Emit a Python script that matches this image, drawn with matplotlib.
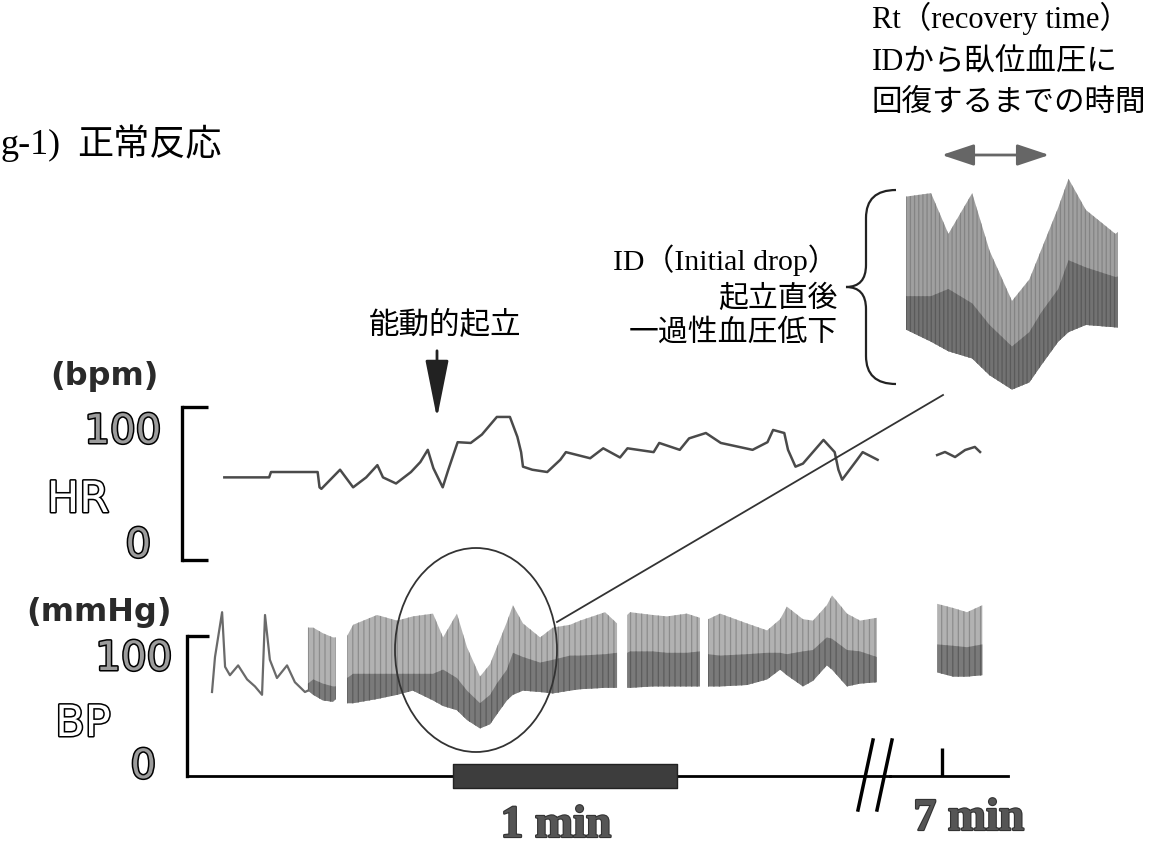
import numpy as np
import matplotlib
matplotlib.use('Agg')
import matplotlib.pyplot as plt
import matplotlib.patheffects as pe
from matplotlib.patches import Ellipse, PathPatch
from matplotlib.path import Path

W, H = 1160, 847
X0 = 187            # pixel column of t = 0 s
PX_PER_S = 3.733    # the 1 min bar is 224 px long
NAN = np.nan

# ---------------- data ----------------
# heart rate, first part (s, bpm)
hr_t = [10, 22, 22.5, 35, 35.5, 36, 41, 44.5, 48, 51, 52.5, 56, 60, 62.5, 64.5,
        66, 68.5, 70, 72.5, 76, 79, 83, 86.5, 88.5, 89.5, 90, 92.5, 96.5, 100,
        101.5, 108, 111.5, 116, 118, 125, 126.5, 132, 134.5, 139, 143, 151.5,
        155.5, 157, 160, 161, 163, 165, 170.5, 173.5, 174.5, 175.5, 179.5, 181, 185]
hr_bpm = [54, 54, 57.5, 57.5, 47.5, 46.5, 59, 47.5, 54, 62, 54, 50, 57.5, 64, 72,
          60, 47.5, 59, 77, 76.5, 82, 93.5, 93.5, 80.5, 70.5, 61, 59, 57.5, 65.5,
          70.5, 66.5, 73, 67, 73, 70.5, 76.5, 72, 79.5, 83, 76.5, 72, 77, 85, 83,
          72, 61, 63, 78.5, 70.5, 59, 52.5, 65.5, 70.5, 65.5]
# heart rate around 7 min
hr7_t = [418.7, 420.8, 423.5, 426.2, 428.8, 430.2]
hr7_bpm = [68.6, 70.6, 67.3, 71.9, 73.9, 70.6]

# blood pressure, supine single-line part (s, mmHg)
bp_line_t = [6.7, 7.5, 9.4, 10.2, 11.5, 13.7, 16.1, 18.2, 20.1, 20.9, 22.2,
             24.1, 26.8, 28.9, 31.6, 32.4]
bp_line = [60, 85, 117, 78, 72, 79, 69, 64, 58, 115, 83, 70, 79, 67, 60, 61]

# blood pressure band: systolic top, dark-band top, diastolic bottom
bp_t = [32.4, 33.8, 36.4, 39.1, 39.9, 41.4, 42.9, 44.5, 50.9, 56.3, 60.5, 65.9,
        68.6, 72.3, 75.0, 78.5, 81.2, 83.0, 85.7, 87.3, 90.0, 94.6, 98.0, 102.6,
        105.3, 112.0, 115.2, 116.5, 117.9, 118.7, 124.8, 128.6, 133.9, 137.4,
        138.5, 139.6, 142.8, 150.0, 155.4, 158.9, 160.7, 165.0, 167.7, 171.4,
        172.8, 176.8, 180.3, 184.8]
bp_sys = [106, 106, 102, 99, 99, NAN, 100, 108, 115, 111, 114, 116, 99, 116, 92,
          71, 80, 92, 110, 122, 109, 99, 106, 108, 111, 117, 109, NAN, 115, 117,
          115, 114, 116, 113, NAN, 112, 116, 109, 104, 112, 121, 112, 111, 122,
          129, 116, 111, 113]
bp_mid = [66, 69, 66, 64, 64, NAN, 70, 73, 73, 73, 73, 73, 76, 70, 61, 52, 58,
          66, 76, 88, 85, 81, 83, 86, 86, 87, 88, NAN, 88, 89, 89, 88, 88, 89,
          NAN, 87, 86, 87, 88, 88, 87, 89, 90, 99, 98, 90, 89, 85]
bp_dia = [61, 58, 54, 53, 55, NAN, 52, 52, 55, 58, 61, 54, 50, 47, 40, 34, 37,
          44, 54, 58, 61, 60, 59, 61, 62, 63, 63, NAN, 63, 63, 64, 64, 64, 64,
          NAN, 64, 64, 65, 69, 76, 72, 64, 68, 79, 76, 64, 66, 67]
# blood pressure around 7 min
bp7_t = [418.7, 423.0, 426.7, 430.8]
bp7_sys = [123, 120, 117, 122]
bp7_mid = [94, 93, 92, 94]
bp7_dia = [74, 71, 71, 72]

AXIS_TICKS = [100, 0]
AXIS_LABELS = ['100', '0']
STAND_BAR = (71.3, 60)     # 1 min scale bar (start s, length s)
LATE_TICK = 420            # 7 min
ZOOM_T = (62, 95)          # window shown enlarged
ZOOM_BP = (33, 124)

plt.rcParams['hatch.linewidth'] = 0.9
LIGHT = dict(facecolor='#b2b2b2', edgecolor='#8d8d8d', hatch='|||', lw=0)
DARK = dict(facecolor='#7a7a7a', edgecolor='#5c5c5c', hatch='|||', lw=0)

fig = plt.figure(figsize=(W / 100, H / 100), dpi=100)


def px_axes(left, right, top, bottom):
    return fig.add_axes([left / W, 1 - bottom / H, (right - left) / W, (bottom - top) / H])


def px_to_t(x, t_ref=0.0, x_ref=X0):
    return t_ref + (x - x_ref) / PX_PER_S


def bare(ax):
    ax.patch.set_alpha(0)
    for s in ax.spines.values():
        s.set_visible(False)
    ax.set_xticks([])
    ax.set_yticks([])


def band(ax, t, dia, mid, sys, light=LIGHT, dark=DARK):
    ax.fill_between(t, dia, sys, **light)
    ax.fill_between(t, dia, mid, **dark)


# ---------------- HR panel ----------------
ax_hr = px_axes(182, 890, 407, 560)
bare(ax_hr)
ax_hr.set_xlim(px_to_t(182), px_to_t(890))
ax_hr.set_ylim(0, 100)
ax_hr.spines['left'].set_visible(True)
ax_hr.spines['left'].set_linewidth(2.4)
ax_hr.set_yticks(AXIS_TICKS)
ax_hr.tick_params(axis='y', direction='in', length=19, width=2.4, labelleft=False)
ax_hr.plot(hr_t, hr_bpm, color='#4a4a4a', lw=1.8, clip_on=False)

ax_hr7 = px_axes(890, 1008, 407, 560)
bare(ax_hr7)
ax_hr7.set_xlim(px_to_t(890, LATE_TICK, 942), px_to_t(1008, LATE_TICK, 942))
ax_hr7.set_ylim(0, 100)
ax_hr7.plot(hr7_t, hr7_bpm, color='#4a4a4a', lw=1.8)

# ---------------- BP panel ----------------
BP_PX = 1.4
bp_ylim = ((776 - 795) / BP_PX, (776 - 560) / BP_PX)

ax_bp = px_axes(187, 890, 560, 795)
bare(ax_bp)
ax_bp.set_xlim(px_to_t(187), px_to_t(890))
ax_bp.set_ylim(*bp_ylim)
ax_bp.spines['left'].set_visible(True)
ax_bp.spines['left'].set_bounds(0, 100)
ax_bp.spines['left'].set_linewidth(2.4)
ax_bp.spines['bottom'].set_visible(True)
ax_bp.spines['bottom'].set_position(('data', 0))
ax_bp.spines['bottom'].set_linewidth(2.0)
ax_bp.set_yticks(AXIS_TICKS[:1])
ax_bp.tick_params(axis='y', direction='in', length=16, width=2.4, labelleft=False)
band(ax_bp, bp_t, bp_dia, bp_mid, bp_sys)
ax_bp.plot(bp_line_t, bp_line, color='#6a6a6a', lw=1.6)
ax_bp.broken_barh([STAND_BAR], (-8.5, 17), facecolors='#3d3d3d',
                  edgecolors='#222222', lw=1, zorder=3)

ax_bp7 = px_axes(890, 1008, 560, 795)
bare(ax_bp7)
ax_bp7.set_xlim(px_to_t(890, LATE_TICK, 942), px_to_t(1008, LATE_TICK, 942))
ax_bp7.set_ylim(*bp_ylim)
ax_bp7.spines['bottom'].set_visible(True)
ax_bp7.spines['bottom'].set_position(('data', 0))
ax_bp7.spines['bottom'].set_linewidth(2.0)
ax_bp7.set_xticks([LATE_TICK])
ax_bp7.tick_params(axis='x', direction='in', length=20, width=2.4, labelbottom=False)
band(ax_bp7, bp7_t, bp7_dia, bp7_mid, bp7_sys)

# tick labels next to the brackets
num_fx = [pe.withStroke(linewidth=2.2, foreground='black')]
for ax, offs in ((ax_hr, {100: (-21, -25), 0: (-31, 14)}),
                 (ax_bp, {100: (-15, -23), 0: (-31, 9)})):
    for val, lab in zip(AXIS_TICKS, AXIS_LABELS):
        dx, dy = offs[val]
        ax.annotate(lab, xy=(0, val), xycoords=('axes fraction', 'data'),
                    xytext=(dx, dy), textcoords='offset pixels', ha='right',
                    va='center', fontsize=29, color='#9c9c9c',
                    family='DejaVu Sans', path_effects=num_fx)

# ---------------- enlarged initial drop ----------------
ax_in = px_axes(906, 1118, 174, 392)
bare(ax_in)
ax_in.set_xlim(*ZOOM_T)
ax_in.set_ylim(*ZOOM_BP)
band(ax_in, bp_t, bp_dia, bp_mid, bp_sys,
     light=dict(facecolor='#a0a0a0', edgecolor='#848484', hatch='||||', lw=0),
     dark=dict(facecolor='#727272', edgecolor='#5a5a5a', hatch='||||', lw=0))

# ---------------- overlay annotations (pixel space) ----------------
ov = fig.add_axes([0, 0, 1, 1])
ov.set_xlim(0, W)
ov.set_ylim(H, 0)
ov.axis('off')
ov.patch.set_alpha(0)

serif_jp = ['Liberation Serif', 'Noto Sans CJK JP']
sans_jp = ['Noto Sans CJK JP', 'DejaVu Sans']

ov.text(0, 145, 'g-1)', ha='left', va='center', fontsize=26, family='Liberation Serif')
ov.text(77, 145, '正常反応', ha='left', va='center', fontsize=26, family=sans_jp)

for y, s in ((18, 'Rt（recovery time）'), (62, 'IDから臥位血圧に'), (103, '回復するまでの時間')):
    ov.text(872, y, s, ha='left', va='center', fontsize=22, family=serif_jp)

ov.annotate('', xy=(1052, 155), xytext=(939, 155),
            arrowprops=dict(arrowstyle='<|-|>,head_length=0.9,head_width=0.3',
                            color='#666666', lw=2, mutation_scale=22))

for y, s in ((260, 'ID（Initial drop）'), (299, '起立直後'), (333, '一過性血圧低下')):
    ov.text(838, y, s, ha='right', va='center', fontsize=21.5, family=serif_jp)

brace = Path([(896, 190), (866, 190), (866, 218), (866, 265), (866, 287), (846, 287),
              (866, 287), (866, 309), (866, 356), (866, 384), (896, 384)],
             [Path.MOVETO, Path.CURVE3, Path.CURVE3, Path.LINETO, Path.CURVE3, Path.CURVE3,
              Path.CURVE3, Path.CURVE3, Path.LINETO, Path.CURVE3, Path.CURVE3])
ov.add_patch(PathPatch(brace, fill=False, lw=1.6, ec='#222222'))

ov.text(445, 325, '能動的起立', ha='center', va='center', fontsize=22, family=sans_jp)
ov.annotate('', xy=(437, 421), xytext=(437, 348),
            arrowprops=dict(arrowstyle='-|>,head_length=1.5,head_width=0.3',
                            color='#222222', lw=2, mutation_scale=24))

ov.add_patch(Ellipse((476, 650), 162, 204, fill=False, lw=1.3, ec='#333333'))
ov.plot([557, 943], [622, 395], color='#333333', lw=1.3)

for x_top in (873, 892):
    ov.plot([x_top, x_top - 15], [740, 810], color='black', lw=2.5)

ov.text(104, 376, '(bpm)', ha='center', va='center', fontsize=23, weight='bold',
        color='#2a2a2a', family='DejaVu Sans')
ov.text(99, 613, '(mmHg)', ha='center', va='center', fontsize=23, weight='bold',
        color='#2a2a2a', family='DejaVu Sans')
lab_fx = [pe.withStroke(linewidth=2.2, foreground='black')]
ov.text(78, 500, 'HR', ha='center', va='center', fontsize=31, color='white',
        family='DejaVu Sans', path_effects=lab_fx)
ov.text(83, 724, 'BP', ha='center', va='center', fontsize=31, color='white',
        family='DejaVu Sans', path_effects=lab_fx)

min_fx = [pe.withStroke(linewidth=1.6, foreground='#333333')]
ov.text(556, 826, '1 min', ha='center', va='center', fontsize=33, weight='bold',
        color='#555555', family='Liberation Serif', path_effects=min_fx)
ov.text(969, 819, '7 min', ha='center', va='center', fontsize=33, weight='bold',
        color='#555555', family='Liberation Serif', path_effects=min_fx)

fig.savefig('out.png', dpi=100, facecolor='white')
